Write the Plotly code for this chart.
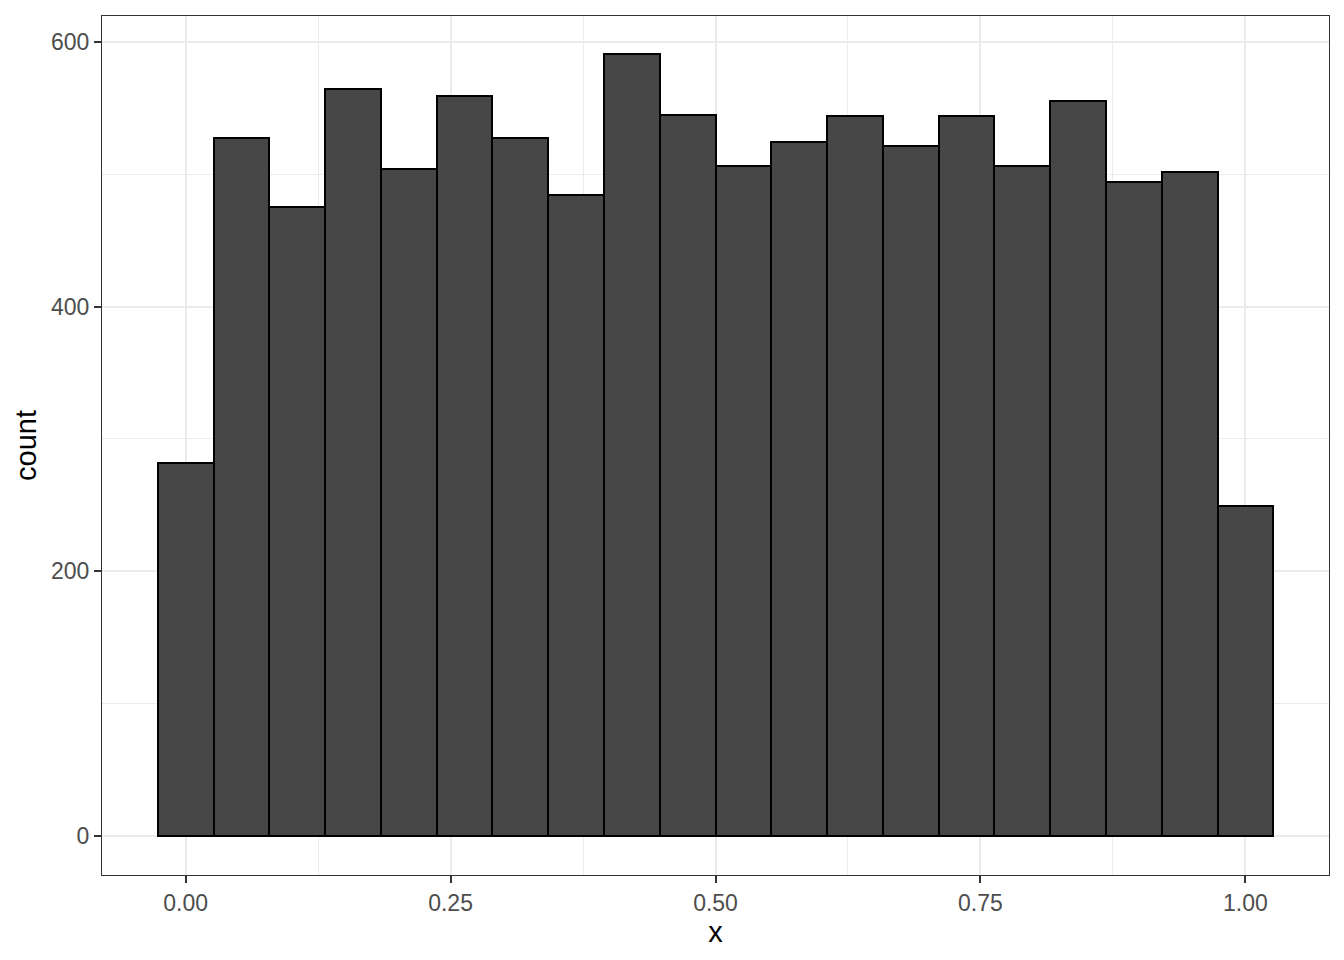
import plotly.graph_objects as go

bin_width = 1 / 19
bin_centers = [i / 19 for i in range(20)]
counts = [282, 527, 475, 564, 504, 559, 527, 484, 591, 545,
          506, 524, 544, 521, 544, 506, 555, 494, 502, 249]

x_tick_vals = [0.0, 0.25, 0.5, 0.75, 1.0]
x_tick_text = ["0.00", "0.25", "0.50", "0.75", "1.00"]
y_tick_vals = [0, 200, 400, 600]
y_tick_text = ["0", "200", "400", "600"]

fig = go.Figure(go.Bar(
    x=bin_centers, y=counts, width=[bin_width] * len(counts),
    marker=dict(color="#474747", line=dict(color="black", width=2)),
))

font = "Liberation Sans, Arial, sans-serif"
common = dict(
    showline=True, mirror=True, linecolor="#333333", linewidth=1.2,
    ticks="outside", ticklen=7, tickwidth=2, tickcolor="#333333",
    tickfont=dict(family=font, size=23, color="#4D4D4D"),
    showgrid=True, gridcolor="#EBEBEB", gridwidth=2, zeroline=False,
)

fig.update_layout(
    width=1328, height=944,
    paper_bgcolor="white", plot_bgcolor="white",
    margin=dict(l=94, r=7, t=8, b=77),
    bargap=0, showlegend=False,
    xaxis=dict(range=[-0.0789, 1.0789], tickvals=x_tick_vals, ticktext=x_tick_text,
               title=dict(text="x", font=dict(family=font, size=29, color="black"), standoff=6),
               minor=dict(tick0=0.125, dtick=0.25, showgrid=True, gridcolor="#EBEBEB", gridwidth=1, ticks=""),
               **common),
    yaxis=dict(range=[-29.5, 619.5], tickvals=y_tick_vals, ticktext=y_tick_text,
               title=dict(text="count", font=dict(family=font, size=29, color="black"), standoff=5),
               minor=dict(tick0=100, dtick=200, showgrid=True, gridcolor="#EBEBEB", gridwidth=1, ticks=""),
               **common),
)

fig.write_html("out.html")
